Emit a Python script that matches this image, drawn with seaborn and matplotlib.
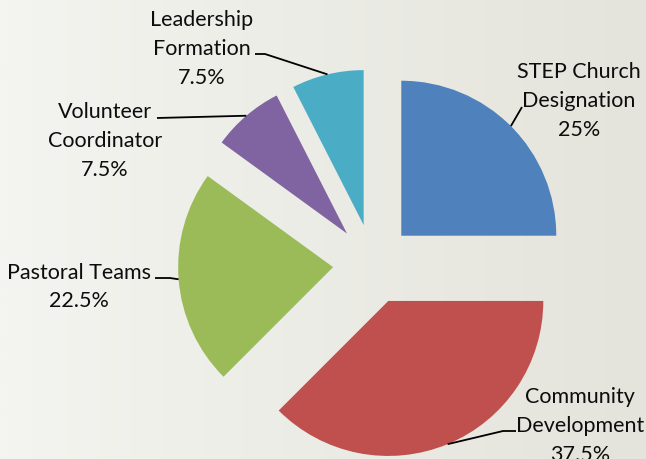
import numpy as np
import matplotlib
matplotlib.use("Agg")
import matplotlib.pyplot as plt
import seaborn as sns
from matplotlib.colors import LinearSegmentedColormap

# data
names = ["STEP Church\nDesignation", "Community\nDevelopment", "Pastoral Teams",
         "Volunteer\nCoordinator", "Leadership\nFormation"]
shares = [25, 37.5, 22.5, 7.5, 7.5]
pct_labels = ["25%", "37.5%", "22.5%", "7.5%", "7.5%"]
colors = ["#4F81BD", "#C0504D", "#9BBB59", "#8064A2", "#4BACC6"]

sns.set_theme(style="white")
plt.rcParams["font.family"] = ["Lato", "DejaVu Sans"]

W, H = 646, 460
CX, CY, R = 373, 265, 155


def px(x, y):
    # pixel position -> data units (pie radius = 1)
    return (x - CX) / R, (CY - y) / R


# label block centres and leader-line points near the text (pixels)
label_pos = [(579, 101), (580, 426), (79, 287), (105, 141), (202, 49)]
leader_pts = [
    [(522, 108)],
    [(516, 432), (503, 432)],
    [(155, 279), (170, 279)],
    [(157, 119)],
    [(255, 55), (265, 55)],
]

fig = plt.figure(figsize=(W / 100, H / 100), dpi=100)
bg = fig.add_axes([0, 0, 1, 1])
cmap = LinearSegmentedColormap.from_list("bg", ["#F4F4F0", "#E4E4DC"])
bg.imshow(np.linspace(0, 1, 256)[None, :], aspect="auto", cmap=cmap,
          extent=[0, 1, 0, 1])
bg.axis("off")

ax = fig.add_axes([0, 0, 1, 1])
ax.set_facecolor("none")
wedges, _ = ax.pie(shares, colors=colors, startangle=90, counterclock=False,
                   explode=[0.258] * len(shares), radius=1,
                   wedgeprops=dict(linewidth=0))
ax.set_xlim(-CX / R, (W - CX) / R)
ax.set_ylim(-(H - CY) / R, CY / R)
ax.axis("off")

for w, name, pct, pos, pts in zip(wedges, names, pct_labels, label_pos, leader_pts):
    mid = np.deg2rad((w.theta1 + w.theta2) / 2)
    ex = w.center[0] + w.r * np.cos(mid)
    ey = w.center[1] + w.r * np.sin(mid)
    line = [px(*p) for p in pts] + [(ex, ey)]
    ax.plot([p[0] for p in line], [p[1] for p in line], color="black", lw=1.3,
            solid_capstyle="butt")
    tx, ty = px(*pos)
    ax.text(tx, ty, name + "\n" + pct, ha="center", va="center",
            multialignment="center", fontsize=15.5, linespacing=1.55,
            color="#0d0d0d")

fig.savefig("out.png", dpi=100)
